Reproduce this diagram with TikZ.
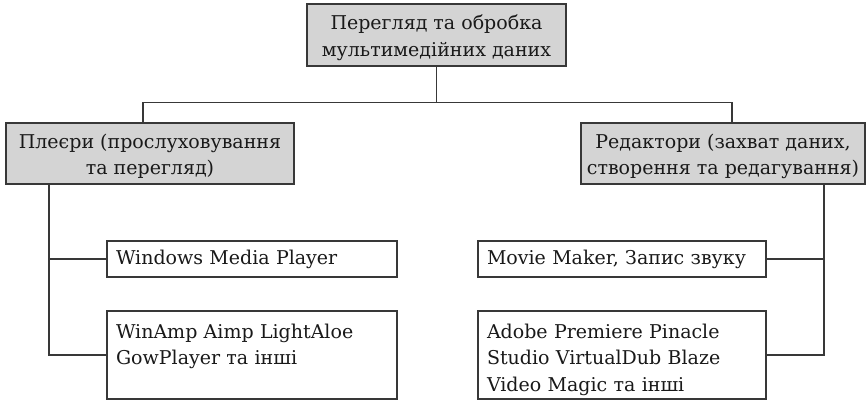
\documentclass[tikz,border=0pt]{standalone}
\usepackage{fontspec}
\setmainfont{DejaVu Serif}
\definecolor{boxgray}{HTML}{D4D4D4}
\definecolor{linegray}{HTML}{383838}
\newcommand{\topline}{\rule{0pt}{24pt}}
\newcommand{\botline}{\rule[-8pt]{0pt}{8pt}}
\newcommand{\topthree}{\rule{0pt}{27pt}}
\begin{document}
\begin{tikzpicture}[x=1pt,y=-1pt,line width=1.2pt,
  base/.style={draw=linegray,inner sep=0pt,font=\fontsize{19}{26.5}\selectfont,text=black!90},
  gbox/.style={base,fill=boxgray,align=center},
  wbox/.style={base,fill=white,align=left,inner xsep=9pt},
  conn/.style={draw=linegray,line width=1.2pt}]
\useasboundingbox (0,0) rectangle (867,399);
\node[gbox,minimum width=259pt,minimum height=62pt] (top) at (436.5,35) {\topline Перегляд та обробка\\мультимедійних даних\botline};
\node[gbox,minimum width=288pt,minimum height=61pt] (pl) at (150,153.5) {\topline Плеєри (прослуховування\\та перегляд)\botline};
\node[gbox,minimum width=284pt,minimum height=61pt] (ed) at (723,153.5) {\topline Редактори (захват даних,\\створення та редагування)\botline};
\node[wbox,text width=272pt,minimum height=36pt] (wmp) at (252,259) {Windows Media Player};
\node[wbox,text width=272pt,minimum height=86pt] (wa) at (252,355) {\topthree WinAmp Aimp LightAloe\\GowPlayer та інші\\\mbox{}\botline};
\node[wbox,text width=270pt,minimum height=36pt] (mm) at (622,259) {Movie Maker, Запис звуку};
\node[wbox,text width=270pt,minimum height=86pt] (ad) at (622,355) {\topthree Adobe Premiere Pinacle\\Studio VirtualDub Blaze\\Video Magic та інші\botline};
\draw[conn] (top.south) -- ++(0,36) coordinate (j);
\draw[conn] ([xshift=-7pt]pl.north) |- (j) -| ([xshift=9pt]ed.north);
\draw[conn] ([xshift=-101pt]pl.south) |- (wmp.west);
\draw[conn] ([xshift=-101pt]pl.south) |- (wa.west);
\draw[conn] ([xshift=101pt]ed.south) |- (mm.east);
\draw[conn] ([xshift=101pt]ed.south) |- (ad.east);
\end{tikzpicture}
\end{document}
